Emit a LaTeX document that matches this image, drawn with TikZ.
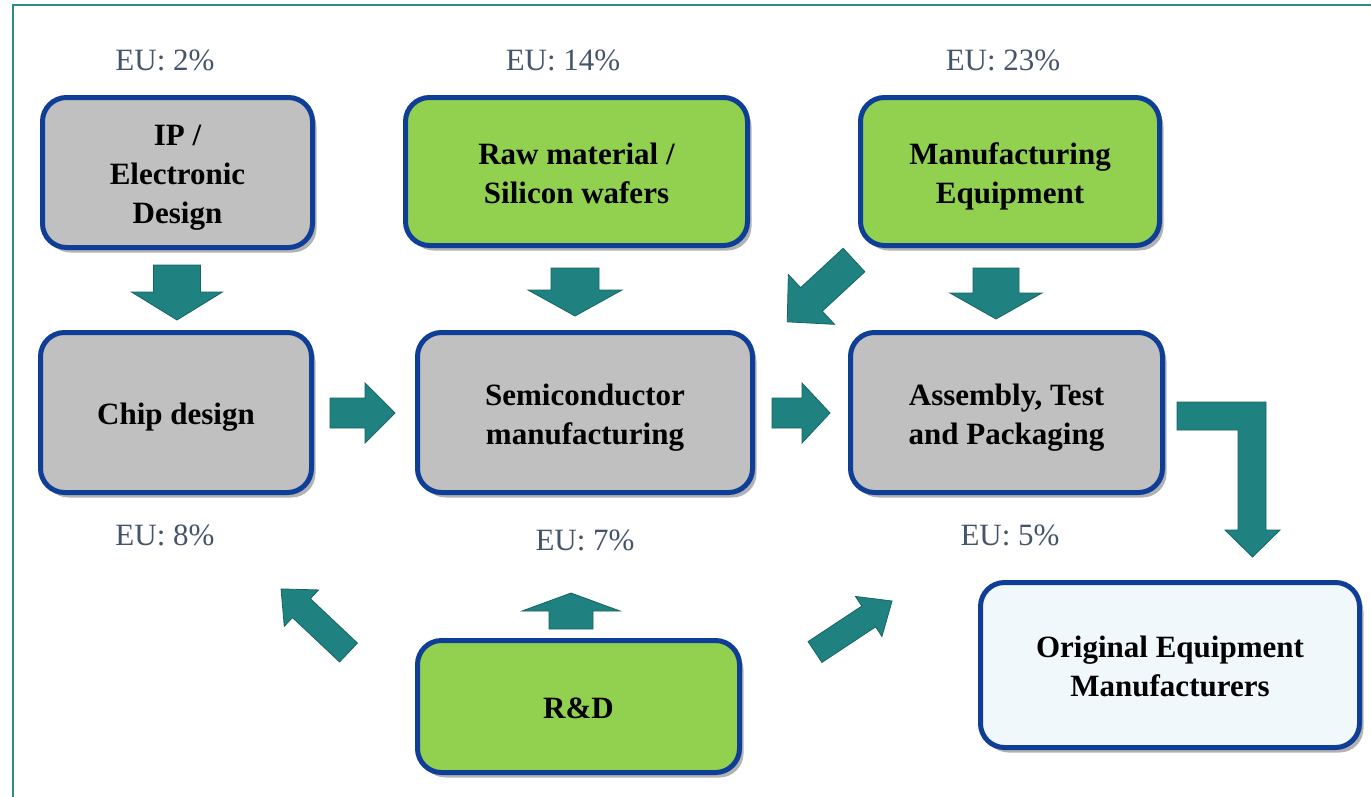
\documentclass[tikz,border=0pt]{standalone}
\usepackage{fontspec}
\setmainfont{Liberation Serif}
\usetikzlibrary{shadows}
\definecolor{boxblue}{RGB}{14,62,150}
\definecolor{boxgray}{RGB}{192,192,192}
\definecolor{boxgreen}{RGB}{146,208,80}
\definecolor{boxlight}{RGB}{240,248,251}
\definecolor{arrowfill}{RGB}{31,130,128}
\definecolor{arrowline}{RGB}{22,100,100}
\definecolor{eutext}{RGB}{68,84,106}
\definecolor{frameteal}{RGB}{45,140,140}
\newcommand\barrow[6]{\draw[blockarrow, shift={(#1)}, rotate=#2] (0,-#4) -- ({#3-#6},-#4) -- ({#3-#6},-#5) -- (#3,0) -- ({#3-#6},#5) -- ({#3-#6},#4) -- (0,#4) -- cycle;}
\newcommand\bx[1]{\raisebox{-4.5pt}[\height][\depth]{\begin{tabular}{@{}c@{}}#1\end{tabular}}}
\tikzset{
  box/.style={draw=boxblue, line width=5pt, rounded corners=24pt,
    font=\bfseries\fontsize{31}{39}\selectfont, inner sep=0pt,
    drop shadow={shadow xshift=4pt, shadow yshift=-5pt, opacity=0.3, fill=black}},
  eulabel/.style={text=eutext, font=\fontsize{31}{38}\selectfont, inner sep=0pt},
  blockarrow/.style={fill=arrowfill, draw=arrowline, line width=0.8pt, line join=miter},
}
\begin{document}
\begin{tikzpicture}[x=1pt, y=-1pt]
\useasboundingbox (0,0) rectangle (1371,796);
\fill[white] (0,0) rectangle (1371,796);
\draw[frameteal, line width=2pt] (13,797) -- (13,5) -- (1372,5);

% boxes
\node[box, fill=boxgray, minimum width=270pt, minimum height=150pt] (ip) at (177.5,172.5) {\bx{IP /\\Electronic\\Design}};
\node[box, fill=boxgreen, minimum width=342pt, minimum height=148pt] (raw) at (576.5,171.5) {\bx{Raw material /\\Silicon wafers}};
\node[box, fill=boxgreen, minimum width=299pt, minimum height=148pt] (meq) at (1010,171.5) {\bx{Manufacturing\\Equipment}};
\node[box, fill=boxgray, minimum width=271pt, minimum height=160pt] (chip) at (176,412.5) {\bx{Chip design}};
\node[box, fill=boxgray, minimum width=335pt, minimum height=160pt] (semi) at (585,412.5) {\bx{Semiconductor\\manufacturing}};
\node[box, fill=boxgray, minimum width=312pt, minimum height=160pt] (atp) at (1006.5,412.5) {\bx{Assembly, Test\\and Packaging}};
\node[box, fill=boxlight, minimum width=379pt, minimum height=165pt] (oem) at (1170,665) {\bx{Original Equipment\\Manufacturers}};
\node[box, fill=boxgreen, minimum width=322pt, minimum height=132pt] (rd) at (578.5,706.5) {\bx{R\&D}};

% EU labels
\node[eulabel] (eu1) at (165,60) {EU: 2\%};
\node[eulabel] (eu2) at (563,60) {EU: 14\%};
\node[eulabel] (eu3) at (1003,60) {EU: 23\%};
\node[eulabel] (eu4) at (165,535) {EU: 8\%};
\node[eulabel] (eu5) at (585,540) {EU: 7\%};
\node[eulabel] (eu6) at (1010,535) {EU: 5\%};

% arrow anchor coordinates
\coordinate (a1) at (177,265);
\coordinate (a2) at (575,268);
\coordinate (a3) at (996,268);
\coordinate (a4) at (854,260);
\coordinate (a5) at (330,413);
\coordinate (a6) at (772,413);
\coordinate (a8) at (571,629);
\coordinate (a9) at (348.5,652.5);
\coordinate (a10) at (815,652);

\barrow{a1}{-90}{55}{23.5}{45.5}{28}
\barrow{a2}{-90}{48}{24}{47}{26}
\barrow{a3}{-90}{51}{23}{46}{26}
\barrow{a4}{-137.2}{91}{16}{34}{33}
\barrow{a5}{0}{65}{15}{30}{30}
\barrow{a6}{0}{58}{15}{30}{28}
\barrow{a8}{90}{36}{22}{49}{18}
\barrow{a9}{136.7}{92.7}{13}{25}{28}
\barrow{a10}{33.5}{92.4}{12.5}{24}{28}

% L-shaped arrow from assembly to OEM
\draw[blockarrow] (1177,402) -- (1266,402) -- (1266,530) -- (1280,530) -- (1252.5,557) -- (1225,530) -- (1238,530) -- (1238,430) -- (1177,430) -- cycle;
\end{tikzpicture}
\end{document}
